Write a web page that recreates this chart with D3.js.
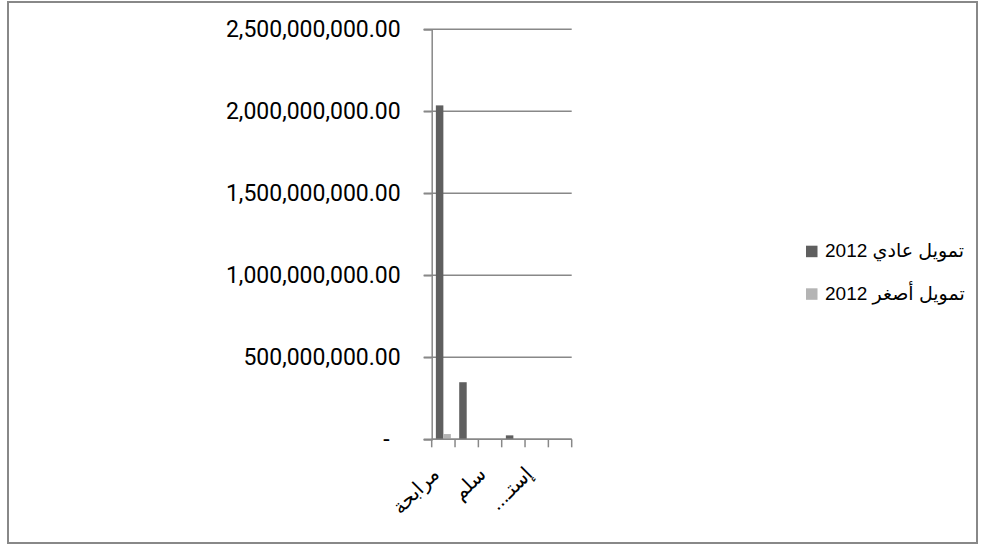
<!DOCTYPE html>
<html lang="ar">
<head>
<meta charset="UTF-8" />
<title>تمويل 2012</title>
<script src="https://d3js.org/d3.v7.min.js"></script>
<style>
    body { margin: 0; background: #fff; }
    svg { display: block; font-family: "Liberation Sans", Arial, "DejaVu Sans", sans-serif; }
</style>
</head>
<body>
<svg id="chart" width="986" height="546"></svg>
<script>
    // data
    var categories = ["مرابحة", "مضاربة", "سلم", "إجارة", "إستـ...", "مشاركة"];
    var seriesNames = ["تمويل عادي 2012", "تمويل أصغر 2012"];
    var regular2012 = [2036000000, 348000000, 0, 24000000, 0, 0];
    var micro2012 = [32000000, 0, 0, 0, 0, 0];
    var yTicks = [0, 500000000, 1000000000, 1500000000, 2000000000, 2500000000];
    var colors = ["#5f5f5f", "#b4b4b4"];

    var svg = d3.select("#chart");
    var plot = { left: 431.7, right: 571.7, top: 29.3, bottom: 439.3 };

    // outer frame
    svg.append("rect")
        .attr("x", 8).attr("y", 2)
        .attr("width", 969).attr("height", 541)
        .attr("fill", "none")
        .attr("stroke", "#888")
        .attr("stroke-width", 2);

    var x = d3.scaleBand()
        .domain(categories)
        .range([plot.left, plot.right])
        .padding(0);

    var xInner = d3.scaleBand()
        .domain(seriesNames)
        .range([0, x.bandwidth()])
        .paddingInner(0)
        .paddingOuter(0.556);

    var y = d3.scaleLinear()
        .domain([0, 2500000000])
        .range([plot.bottom, plot.top]);

    // gridlines
    svg.append("g")
        .selectAll("line")
        .data(yTicks)
        .join("line")
        .attr("x1", plot.left - 8)
        .attr("x2", plot.right)
        .attr("y1", d => y(d))
        .attr("y2", d => y(d))
        .attr("stroke", "#888")
        .attr("stroke-width", 1.5);

    // y axis
    var fmt = d3.format(",.2f");
    var yAxis = svg.append("g")
        .attr("transform", "translate(" + plot.left + ",0)")
        .call(d3.axisLeft(y)
            .tickValues(yTicks)
            .tickSize(8)
            .tickPadding(23)
            .tickFormat(d => d === 0 ? "-" : fmt(d)));
    yAxis.select(".domain").attr("stroke", "#888").attr("stroke-width", 1.5);
    yAxis.selectAll(".tick line").attr("stroke", "#888").attr("stroke-width", 1.5);
    yAxis.selectAll(".tick text")
        .attr("font-size", 23)
        .attr("font-family", "Roboto, 'Liberation Sans', sans-serif")
        .attr("fill", "#000")
        .filter(d => d === 0)
        .attr("dx", -11);

    // bars
    var rows = categories.map((c, i) => ({ cat: c, values: [regular2012[i], micro2012[i]] }));
    var groups = svg.append("g")
        .selectAll("g")
        .data(rows)
        .join("g")
        .attr("transform", d => "translate(" + x(d.cat) + ",0)");

    groups.selectAll("rect")
        .data(d => d.values.map((v, j) => ({ s: seriesNames[j], v: v, j: j })))
        .join("rect")
        .attr("x", d => xInner(d.s))
        .attr("width", xInner.bandwidth())
        .attr("y", d => y(d.v))
        .attr("height", d => y(0) - y(d.v))
        .attr("fill", d => colors[d.j]);

    // x axis
    var xAxis = svg.append("g")
        .attr("transform", "translate(0," + plot.bottom + ")");
    xAxis.append("line")
        .attr("x1", plot.left).attr("x2", plot.right)
        .attr("stroke", "#888").attr("stroke-width", 1.5);
    var bounds = categories.map(c => x(c)).concat([x.range()[1]]);
    xAxis.selectAll(".xtick")
        .data(bounds)
        .join("line")
        .attr("class", "xtick")
        .attr("x1", d => d).attr("x2", d => d)
        .attr("y1", 0).attr("y2", 8)
        .attr("stroke", "#888").attr("stroke-width", 1.5);

    // only every second category label fits
    xAxis.selectAll(".xlabel")
        .data(categories.filter((c, i) => i % 2 === 0))
        .join("text")
        .attr("class", "xlabel")
        .attr("transform", d => "translate(" + (x(d) + x.bandwidth() / 2 - 3) + ",36) rotate(-45)")
        .attr("direction", "rtl")
        .attr("text-anchor", "start")
        .attr("font-size", 20)
        .attr("fill", "#000")
        .text(d => d);

    // legend
    var legend = svg.append("g")
        .selectAll("g")
        .data(seriesNames)
        .join("g")
        .attr("transform", (d, i) => "translate(806," + (245.7 + i * 42.6) + ")");
    legend.append("rect")
        .attr("width", 11.5).attr("height", 11.5)
        .attr("fill", (d, i) => colors[i]);
    legend.append("text")
        .attr("x", 19)
        .attr("y", 11.5)
        .attr("direction", "rtl")
        .attr("text-anchor", "end")
        .attr("font-size", 19)
        .attr("fill", "#000")
        .text(d => d);
</script>
</body>
</html>
